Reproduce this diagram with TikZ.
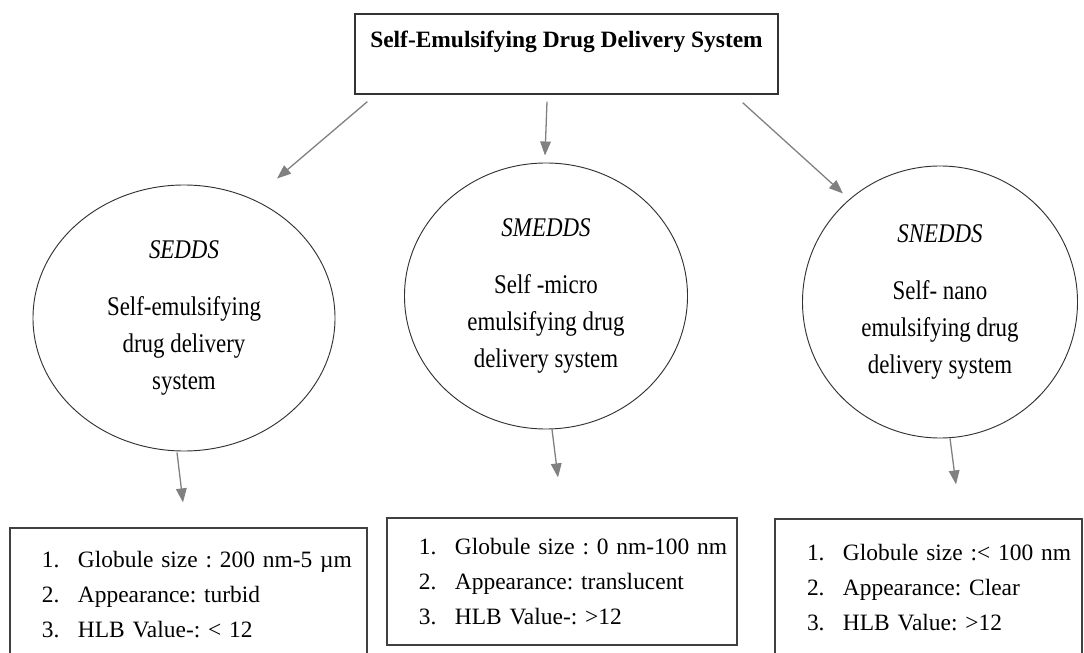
\documentclass[tikz,border=0pt]{standalone}
\usepackage{fontspec}
\setmainfont{Liberation Serif}
\newfontfamily\bubblefont[FakeStretch=0.85]{Liberation Serif}
\usetikzlibrary{shapes.geometric,arrows.meta}
\newcommand{\itm}[2]{\mbox{\makebox[1.08cm][l]{#1}#2}}
\frenchspacing

\begin{document}
\begin{tikzpicture}[x=0.03cm,y=-0.03cm,
        bubble/.style={draw=black!80, line width=0.8pt, ellipse, inner sep=0pt, align=center, font=\bubblefont\fontsize{23}{31.5}\selectfont},
        infobox/.style={draw=black!75, line width=1pt, rectangle, inner xsep=0.96cm, inner ysep=0pt, align=left, font=\fontsize{20}{29.5}\selectfont},
        arr/.style={draw=black!50, line width=1.1pt, -{Triangle[length=0.42cm,width=0.32cm]}}]
    \useasboundingbox (0,0) rectangle (1084,653);
    \clip (0,0) rectangle (1084,653);

    \node[draw=black!80, line width=1.1pt, minimum width=12.69cm, minimum height=2.4cm, text depth=0.88cm, font=\bfseries\fontsize{20}{24}\selectfont] (sdds) at (566.5,54) {Self-Emulsifying Drug Delivery System};

    \node[bubble, minimum width=9.06cm, minimum height=7.98cm] (sedds) at (184,318) {\textit{SEDDS}\\[17pt] Self-emulsifying\\ drug delivery\\ system};
    \node[bubble, minimum width=8.49cm, minimum height=7.98cm] (smedds) at (546,296) {\textit{SMEDDS}\\[17pt] Self -micro\\ emulsifying drug\\ delivery system};
    \node[bubble, minimum width=8.25cm, minimum height=8.16cm] (snedds) at (940,302) {\textit{SNEDDS}\\[17pt] Self- nano\\ emulsifying drug\\ delivery system};

    \node[infobox, text width=8.79cm, minimum height=3.99cm] (seddsbox) at (188.5,594.5) {\itm{1.}{Globule size : 200 nm-5 µm}\\ \itm{2.}{Appearance: turbid}\\ \itm{3.}{HLB Value-: < 12}};
    \node[infobox, text width=8.58cm, minimum height=3.81cm] (smeddsbox) at (562,581.5) {\itm{1.}{Globule size : 0 nm-100 nm}\\ \itm{2.}{Appearance: translucent}\\ \itm{3.}{HLB Value-: >12}};
    \node[infobox, text width=7.29cm, minimum height=4.11cm] (sneddsbox) at (928.5,587.5) {\itm{1.}{Globule size :< 100 nm}\\ \itm{2.}{Appearance: Clear}\\ \itm{3.}{HLB Value: >12}};

    \draw[arr] ([shift={(13,7)}]sdds.south west) -- ([shift={(93,-6)}]sedds.north);
    \draw[arr] ([shift={(-19.5,7)}]sdds.south) -- ([shift={(-1,-7)}]smedds.north);
    \draw[arr] ([shift={(-36,8)}]sdds.south east) -- ([shift={(-97,28)}]snedds.north);

    \draw[arr] ([shift={(-7,1)}]sedds.south) -- ([shift={(-5.5,-25)}]seddsbox.north);
    \draw[arr] ([shift={(6,0)}]smedds.south) -- ([shift={(-4,-40)}]smeddsbox.north);
    \draw[arr] ([shift={(10,0)}]snedds.south) -- ([shift={(27.5,-34)}]sneddsbox.north);
\end{tikzpicture}
\end{document}
